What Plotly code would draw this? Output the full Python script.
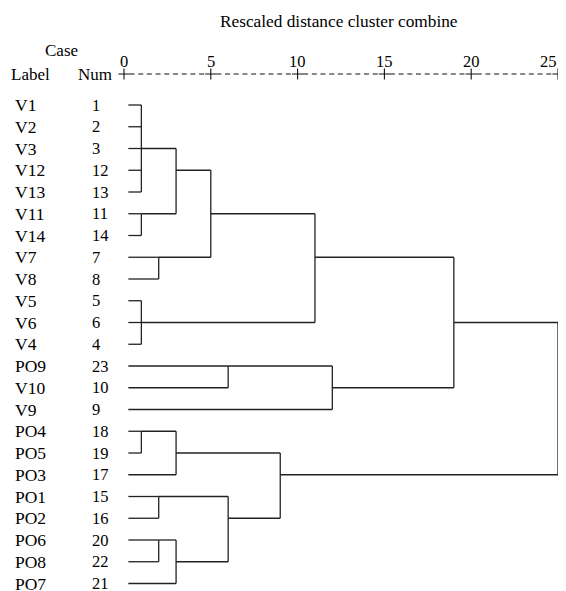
import plotly.graph_objects as go

# ---------------- data ----------------
labels = ["V1", "V2", "V3", "V12", "V13", "V11", "V14", "V7", "V8", "V5", "V6", "V4",
          "PO9", "V10", "V9", "PO4", "PO5", "PO3", "PO1", "PO2", "PO6", "PO8", "PO7"]
case_nums = [1, 2, 3, 12, 13, 11, 14, 7, 8, 5, 6, 4,
             23, 10, 9, 18, 19, 17, 15, 16, 20, 22, 21]
# merges: children are leaf indices (0..22) or earlier clusters (23+)
merge_children = [[0, 1, 2, 3, 4], [5, 6], [23, 24], [7, 8], [25, 26], [9, 10, 11],
                  [27, 28], [12, 13], [30, 14], [29, 31], [15, 16], [33, 17],
                  [18, 19], [20, 21], [36, 22], [35, 37], [34, 38], [32, 39]]
merge_heights = [1, 1, 3, 2, 5, 1, 11, 6, 12, 19, 1, 3, 2, 2, 3, 6, 9, 25]
tick_values = [0, 5, 10, 15, 20, 25]
title_text = "Rescaled distance cluster combine"

# ---------------- layout constants (window pixels) ----------------
WIN_W, WIN_H = 566, 591
BODY_MARGIN = 8  # default page margin around the plot div
W, H = WIN_W - BODY_MARGIN, WIN_H - BODY_MARGIN
X0_PX, PX_PER_UNIT = 124.0, 17.36
ROW0_PX, ROW_PX = 105.0, 21.75
LEAF_START = 0.25
FONT = "Liberation Serif"
FS = 17
LINE_COLOR = "#222222"
VISIBLE_RIGHT_PX = 557.5  # right-most visible window column


def px_x(px):
    return (px - X0_PX) / PX_PER_UNIT


def px_y(py):
    return (py - ROW0_PX) / ROW_PX


# ---------------- build dendrogram segments ----------------
n = len(labels)
out_row = {i: i for i in range(n)}
x_start = {i: LEAF_START for i in range(n)}
xs, ys = [], []
for k, (children, h) in enumerate(zip(merge_children, merge_heights)):
    cid = n + k
    rows = [out_row[c] for c in children]
    for c in children:
        xs += [x_start[c], h, None]
        ys += [out_row[c], out_row[c], None]
    xs += [h, h, None]
    ys += [min(rows), max(rows), None]
    out_row[cid] = (min(rows) + max(rows)) // 2
    x_start[cid] = h

fig = go.Figure()
fig.add_trace(go.Scatter(x=xs, y=ys, mode="lines",
                         line=dict(color=LINE_COLOR, width=1.3),
                         hoverinfo="skip", showlegend=False, cliponaxis=False))

# ---------------- axis ruler (+---------+) ----------------
axis_row = px_y(74)
rx, ry = [], []
for a, b in zip(tick_values[:-1], tick_values[1:]):
    rx += [a + px_x(X0_PX + 5.5), b - px_x(X0_PX + 5.0), None]
    ry += [axis_row, axis_row, None]
fig.add_trace(go.Scatter(x=rx, y=ry, mode="lines",
                         line=dict(color="#111111", width=1, dash="5px,3.7px"),
                         hoverinfo="skip", showlegend=False))
fig.add_trace(go.Scatter(x=tick_values, y=[axis_row] * len(tick_values), mode="markers",
                         marker=dict(symbol="cross-thin", size=8,
                                     line=dict(color="#111111", width=1.1)),
                         hoverinfo="skip", showlegend=False, cliponaxis=False))

annotations = []


def add_text(x, y, text, anchor="left", size=FS, yanchor="middle"):
    annotations.append(dict(x=x, y=y, xref="x", yref="y", text=text, showarrow=False,
                            xanchor=anchor, yanchor=yanchor,
                            font=dict(family=FONT, size=size, color="#000000")))


for t in tick_values:
    if t == tick_values[-1]:
        # last label sits against the right edge of the visible area
        add_text(px_x(VISIBLE_RIGHT_PX + 1), px_y(61.5), str(t), "right", 16.5)
    else:
        add_text(t, px_y(61.5), str(t), "center", 16.5)

add_text(px_x(339), px_y(21), title_text, "center", 17.3)
add_text(px_x(61), px_y(50), "Case", "center")
add_text(px_x(9), px_y(74.5), "Label", "left")
add_text(px_x(76), px_y(74.5), "Num", "left")

for i, (lab, num) in enumerate(zip(labels, case_nums)):
    add_text(px_x(12.5), i, lab, "left", 17.5)
    add_text(px_x(89.5), i, str(num), "left", 16.5)

fig.update_layout(
    width=W, height=H, autosize=False,
    margin=dict(l=0, r=0, t=0, b=0, pad=0),
    paper_bgcolor="white", plot_bgcolor="white",
    xaxis=dict(range=[px_x(BODY_MARGIN), px_x(WIN_W)], visible=False, fixedrange=True),
    yaxis=dict(range=[px_y(WIN_H), px_y(BODY_MARGIN)], visible=False, fixedrange=True),
    annotations=annotations,
    showlegend=False,
)

fig.write_html("out.html")
